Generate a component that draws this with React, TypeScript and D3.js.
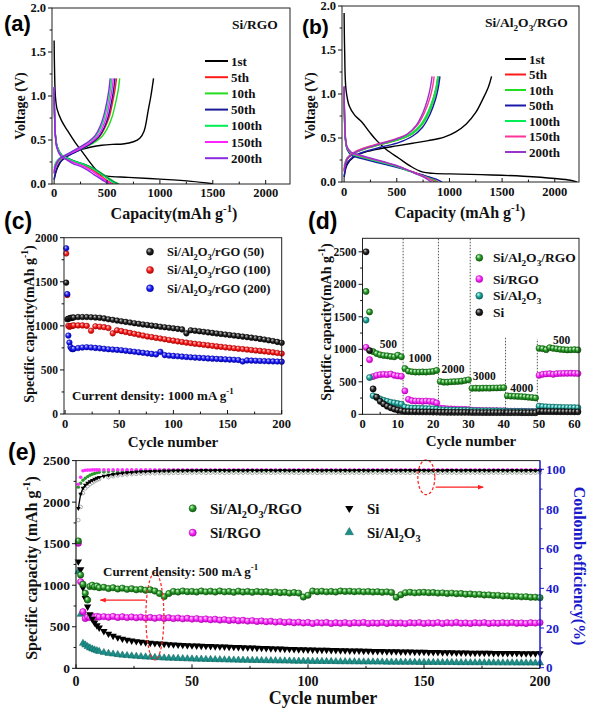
import React from "react";
import * as d3 from "d3";

const SERIF = "'Liberation Serif','Times New Roman',Times,serif";
const SANS = "'Liberation Sans',Arial,Helvetica,sans-serif";

// ---------------- (a) Si/RGO voltage profiles [capacity mAh/g, V] ----------------
const A_LABELS = ["1st", "5th", "10th", "50th", "100th", "150th", "200th"];
const A_COLORS = ["#000000", "#ff1a1a", "#22dd22", "#1a1a99", "#00ee55", "#ff22ff", "#8a2be2"];
const A_1_DIS = [[0,1.63],[4,1.3],[12,1.0],[28,0.85],[70,0.72],[130,0.6],[200,0.47],[270,0.36],[330,0.26],[390,0.17],[440,0.11],[500,0.09],[700,0.075],[1000,0.055],[1300,0.03],[1500,0.003]];
const A_1_CHG = [[0,0.05],[30,0.18],[80,0.28],[150,0.34],[250,0.39],[350,0.42],[450,0.44],[550,0.45],[650,0.455],[750,0.48],[810,0.52],[850,0.6],[890,0.84],[915,1.0],[940,1.2]];
const A_5_DIS = [[0,1.08],[4,0.8],[12,0.56],[28,0.42],[65,0.33],[121,0.29],[196,0.25],[271,0.22],[336,0.18],[401,0.13],[457,0.08],[513,0.03],[560,0]];
const A_5_CHG = [[0,0.12],[15,0.2],[50,0.27],[125,0.32],[205,0.37],[285,0.42],[360,0.47],[430,0.54],[480,0.64],[523,0.77],[553,0.93],[574,1.06],[590,1.2]];
const A_10_DIS = [[0,1.09],[4,0.8],[12,0.56],[31,0.42],[72,0.33],[133,0.29],[215,0.25],[297,0.22],[369,0.18],[441,0.13],[502,0.08],[564,0.03],[615,0]];
const A_10_CHG = [[0,0.15],[16,0.22],[55,0.28],[130,0.33],[215,0.37],[300,0.42],[378,0.47],[453,0.54],[507,0.64],[550,0.77],[583,0.93],[605,1.06],[620,1.2]];
const A_50_DIS = [[0,1.1],[4,0.8],[12,0.56],[30,0.42],[70,0.33],[130,0.29],[210,0.25],[290,0.22],[360,0.18],[430,0.13],[490,0.08],[550,0.03],[600,0]];
const A_50_CHG = [[0,0.05],[15,0.14],[50,0.24],[120,0.31],[200,0.36],[280,0.41],[350,0.46],[420,0.53],[470,0.63],[510,0.76],[540,0.92],[560,1.05],[575,1.2]];
const A_100_DIS = [[0,1.1],[4,0.8],[12,0.56],[30,0.42],[69,0.33],[128,0.29],[207,0.25],[285,0.22],[354,0.18],[423,0.13],[482,0.08],[541,0.03],[590,0]];
const A_100_CHG = [[0,0.18],[14,0.24],[47,0.29],[113,0.33],[190,0.38],[265,0.43],[332,0.48],[398,0.55],[446,0.65],[483,0.78],[512,0.93],[531,1.06],[545,1.2]];
const A_150_DIS = [[0,1.1],[4,0.8],[12,0.55],[27,0.41],[64,0.32],[118,0.28],[191,0.24],[263,0.21],[327,0.17],[390,0.12],[445,0.07],[500,0.03],[545,0]];
const A_150_CHG = [[0,0.15],[15,0.22],[49,0.28],[117,0.33],[195,0.37],[273,0.42],[341,0.47],[409,0.54],[458,0.64],[497,0.77],[526,0.93],[546,1.06],[560,1.2]];
const A_200_DIS = [[0,1.1],[4,0.8],[12,0.55],[26,0.41],[61,0.32],[113,0.28],[182,0.23],[251,0.2],[312,0.16],[373,0.11],[425,0.07],[477,0.03],[520,0]];
const A_200_CHG = [[0,0.12],[14,0.21],[46,0.28],[110,0.33],[184,0.38],[258,0.43],[323,0.48],[387,0.55],[433,0.65],[470,0.78],[498,0.93],[517,1.06],[530,1.2]];

// ---------------- (b) Si/Al2O3/RGO voltage profiles ----------------
const B_COLORS = ["#000000", "#ff1a1a", "#22dd22", "#1a1aaa", "#00ee55", "#ff3399", "#9933cc"];
const B_1_DIS = [[0,1.92],[5,1.5],[18,1.05],[50,0.86],[100,0.76],[170,0.68],[240,0.57],[310,0.47],[400,0.37],[520,0.27],[630,0.18],[740,0.115],[850,0.098],[1100,0.09],[1400,0.08],[1700,0.065],[2000,0.04],[2150,0.02],[2210,0]];
const B_1_CHG = [[0,0.05],[30,0.2],[100,0.29],[200,0.34],[350,0.38],[500,0.41],[650,0.44],[800,0.47],[950,0.51],[1060,0.57],[1160,0.66],[1250,0.79],[1320,0.95],[1370,1.08],[1400,1.2]];
const B_5_DIS = [[0,1.08],[4,0.76],[12,0.5],[30,0.38],[71,0.32],[152,0.29],[273,0.25],[405,0.21],[526,0.17],[637,0.12],[738,0.08],[829,0.04],[890,0]];
const B_5_CHG = [[0,0.12],[31,0.26],[102,0.33],[205,0.38],[358,0.43],[511,0.48],[634,0.54],[726,0.64],[798,0.79],[849,0.96],[875,1.08],[890,1.2]];
const B_10_DIS = [[0,1.08],[4,0.75],[12,0.5],[30,0.38],[70,0.32],[150,0.29],[270,0.25],[400,0.21],[520,0.17],[630,0.12],[730,0.08],[820,0.04],[880,0]];
const B_10_CHG = [[0,0.14],[31,0.27],[103,0.33],[207,0.38],[362,0.43],[517,0.48],[641,0.54],[734,0.64],[807,0.79],[858,0.96],[884,1.08],[900,1.2]];
const B_50_DIS = [[0,1.05],[4,0.72],[12,0.48],[32,0.36],[74,0.3],[158,0.27],[285,0.23],[423,0.19],[550,0.15],[666,0.11],[772,0.07],[867,0.035],[930,0]];
const B_50_CHG = [[0,0.06],[31,0.22],[105,0.3],[209,0.35],[366,0.4],[523,0.45],[648,0.52],[743,0.62],[816,0.77],[868,0.94],[894,1.07],[910,1.2]];
const B_100_DIS = [[0,1.08],[4,0.75],[12,0.5],[30,0.38],[69,0.32],[148,0.29],[267,0.25],[395,0.21],[514,0.17],[623,0.12],[722,0.08],[811,0.04],[870,0]];
const B_100_CHG = [[0,0.18],[31,0.28],[102,0.34],[205,0.39],[358,0.44],[511,0.49],[634,0.55],[726,0.65],[798,0.8],[849,0.96],[875,1.08],[890,1.2]];
const B_150_DIS = [[0,1.08],[4,0.76],[12,0.51],[29,0.39],[68,0.33],[147,0.3],[264,0.26],[391,0.22],[508,0.18],[616,0.13],[713,0.085],[801,0.04],[860,0]];
const B_150_CHG = [[0,0.15],[29,0.27],[98,0.34],[197,0.39],[344,0.44],[491,0.49],[609,0.55],[698,0.65],[767,0.8],[816,0.96],[840,1.08],[855,1.2]];
const B_200_DIS = [[0,1.09],[4,0.77],[12,0.52],[28,0.4],[66,0.34],[141,0.31],[255,0.27],[377,0.23],[490,0.19],[594,0.14],[688,0.09],[773,0.045],[830,0]];
const B_200_CHG = [[0,0.12],[29,0.26],[96,0.33],[192,0.38],[336,0.43],[480,0.48],[595,0.54],[682,0.64],[749,0.79],[797,0.96],[820,1.08],[835,1.2]];

// ---------------- (c) cycling at 1000 mA/g ----------------
const C_CYCLES = [1, 2, 3, 4, 5, 6, 7, 8].concat(d3.range(12, 201, 4));
const C_50 = [1490,1075,1080,1085,1090,1090,1095,1095,
  1100,1100,1100,1098,1095,1092,1085,1075,1068,1060,1052,1045,
  1038,1030,1023,1016,1010,1003,997,990,984,978,972,966,
  960,915,950,945,938,932,926,920,914,908,902,896,
  890,884,878,872,866,860,852,845,836,828,818,808];
const C_100 = [1820,1350,1000,990,995,1000,1000,1005,
  1005,1005,1000,945,995,990,985,975,915,950,940,930,
  920,910,900,890,880,872,864,856,848,840,832,824,
  817,810,803,797,791,785,779,773,767,762,756,751,
  746,741,736,731,726,721,716,711,705,699,692,685];
const C_200 = [1880,1360,890,810,760,740,735,740,
  748,755,758,755,750,745,740,735,731,728,724,718,
  712,706,700,694,688,682,676,705,668,663,659,655,
  651,647,643,640,637,634,631,628,625,622,620,617,
  615,612,595,608,606,604,602,600,598,597,595,594];
const C_LEGEND = ["Si/Al_{2}O_{3}/rGO (50)", "Si/Al_{2}O_{3}/rGO (100)", "Si/Al_{2}O_{3}/rGO (200)"];

// ---------------- (d) rate performance ----------------
const D_CYCLES = d3.range(1, 62);
const D_GREEN = [1890,1575,965,935,915,905,900,890,885,910,885,
  705,665,655,650,650,652,650,655,660,675,
  505,495,495,500,502,505,510,520,530,
  400,402,400,402,403,402,405,405,408,410,
  285,280,278,275,272,268,262,258,252,
  1015,1010,995,1025,1015,1008,1000,995,990,992,995,990];
const D_PINK = [1030,840,580,600,610,615,610,620,600,590,585,
  360,230,210,205,205,200,205,200,195,175,
  95,90,85,82,80,78,76,75,74,
  62,60,59,58,57,57,56,56,55,55,
  48,47,46,45,45,44,43,43,42,
  600,615,620,625,615,625,628,630,630,632,630,628];
const D_TEAL = [1450,565,285,260,235,215,200,185,175,165,155,
  110,100,96,94,92,90,88,86,84,82,
  70,68,67,66,65,64,63,62,62,
  56,55,54,54,53,53,52,52,51,51,
  46,45,45,44,44,43,43,42,42,
  125,118,115,112,110,108,106,105,104,103,102,100];
const D_BLACK = [2500,980,390,265,200,160,125,100,80,65,55,
  42,40,39,38,37,37,36,36,35,35,
  32,32,31,31,31,30,30,30,30,
  28,28,28,27,27,27,27,27,27,27,
  26,26,26,26,25,25,25,25,25,
  45,44,43,42,42,41,40,40,39,39,38,38];
const D_SEPARATORS = [11.5, 21.5, 30.5, 40.5, 49.5];
const D_SEP_TOPS = [2708, 2708, 2708, 1190, 1160];
const D_RATES = ["500", "1000", "2000", "3000", "4000", "500"];
const D_RATE_CYC = [7.3, 16.3, 25.6, 34.5, 45.1, 56.4];
const D_RATE_VAL = [1075, 862, 692, 589, 400, 1143];
const D_LEGEND = ["Si/Al_{2}O_{3}/RGO", "Si/RGO", "Si/Al_{2}O_{3}", "Si"];

// ---------------- (e) long cycling at 500 mA/g ----------------
const E_CYCLES = [1, 2, 3, 4, 5, 6, 7, 8, 9, 10].concat(d3.range(12, 201, 2));
const E_SI = [1285,1190,971,843,742,650,595,550,515,488,
  448,415,390,370,355,343,333,325,318,312,
  306,301,297,293,289,286,283,280,277,274,
  272,270,268,266,264,262,260,258,256,254,
  252,250,248,246,244,242,240,238,236,234,
  232,230,228,226,224,223,222,221,220,218,
  217,216,215,213,212,211,210,208,207,206,
  205,204,203,202,201,200,199,198,197,196,
  195,194,193,192,191,190,189,188,187,186,
  185,185,184,184,183,183,182,182,181,181,
  180,180,180,179,179];
const E_SIAL = [1164,650,301,281,262,246,233,222,212,203,
  190,180,172,165,159,154,149,145,141,137,
  134,131,128,125,123,121,119,117,115,113,
  111,110,108,107,105,104,103,101,100,99,
  98,97,96,95,94,93,92,91,90,89,
  88,87,86,86,85,84,84,83,82,82,
  81,80,80,79,79,78,78,77,77,76,
  76,75,75,74,74,73,73,73,72,72,
  71,71,71,70,70,70,69,69,69,68,
  68,68,67,67,67,66,66,66,66,65,
  65,65,65,64,64];
const E_SIRGO = [1506,1043,682,600,618,610,625,615,625,618,
  622,615,625,612,620,610,618,608,615,605,
  612,602,610,600,608,598,605,595,602,592,
  598,588,594,584,590,580,586,576,582,572,
  578,568,574,564,570,560,566,556,562,552,
  558,548,555,545,552,540,550,545,552,540,
  548,542,550,540,548,544,552,540,546,542,
  550,540,548,542,546,538,548,544,550,540,
  546,542,550,540,548,544,552,542,546,540,
  548,544,550,540,546,542,548,544,550,542,
  546,540,548,544,550];
const E_SIALRGO = [1533,1124,1012,904,823,985,1000,980,990,970,
  975,960,970,955,965,950,958,945,952,940,
  945,930,900,863,900,925,918,930,922,925,
  918,930,920,928,918,930,920,925,915,928,
  918,925,915,925,918,922,912,920,910,915,
  905,912,905,858,880,930,922,928,920,925,
  918,930,925,928,922,926,920,924,918,922,
  915,920,912,855,885,910,915,908,912,915,
  910,912,905,908,900,905,898,900,892,895,
  888,890,882,884,876,878,870,872,865,866,
  860,862,855,856,850];
const E_CE_SIALRGO = [91,93,94.5,95.5,96.3,97,97.5,97.9,98.2,98.5,
  98.7,98.9,99,99.1,99.1,99.2,99.2,99.2,99.3,99.3,
  99.3,99.2,99.3,99.3,99.2,99.3,99.3,99.2,99.3,99.3,
  99.3,99.2,99.3,99.3,99.2,99.3,99.3,99.2,99.3,99.3,
  99.3,99.2,99.3,99.3,99.2,99.3,99.3,99.2,99.3,99.3,
  99.3,99.2,99.3,99.3,99.2,99.3,99.3,99.2,99.3,99.3,
  99.3,99.2,99.3,99.3,99.2,99.3,99.3,99.2,99.3,99.3,
  99.3,99.2,99.3,99.3,99.2,99.3,99.3,99.2,99.3,99.3,
  99.3,99.2,99.3,99.3,99.2,99.3,99.3,99.2,99.3,99.3,
  99.3,99.2,99.3,99.3,99.2,99.3,99.3,99.2,99.3,99.3,
  99.3,99.2,99.3,99.3,99.2];
const E_CE_SIRGO = [92.5,96,99.3,99.5,99.6,99.6,99.7,99.7,99.7,99.7,
  99.8,99.7,99.8,99.8,99.7,99.8,99.8,99.7,99.8,99.8,
  99.8,99.7,99.8,99.8,99.7,99.8,99.8,99.7,99.8,99.8,
  99.8,99.7,99.8,99.8,99.7,99.8,99.8,99.7,99.8,99.8,
  99.8,99.7,99.8,99.8,99.7,99.8,99.8,99.7,99.8,99.8,
  99.8,99.7,99.8,99.8,99.7,99.8,99.8,99.7,99.8,99.8,
  99.8,99.7,99.8,99.8,99.7,99.8,99.8,99.7,99.8,99.8,
  99.8,99.7,99.8,99.8,99.7,99.8,99.8,99.7,99.8,99.8,
  99.8,99.7,99.8,99.8,99.7,99.8,99.8,99.7,99.8,99.8,
  99.8,99.7,99.8,99.8,99.7,99.8,99.8,99.7,99.8,99.8,
  99.8,99.7,99.8,99.8,99.7];
const E_CE_SI = [80.3,87.5,90.5,92,93,93.8,94.5,95.1,95.6,96,
  96.6,97.1,97.5,97.8,98.1,98.3,98.5,98.7,98.8,98.9,
  99,99.1,99.1,99.2,99.2,99.3,99.3,99.3,99.4,99.4,
  99.4,99.5,99.5,99.4,99.5,99.5,99.5,99.4,99.5,99.5,
  99.4,99.5,99.5,99.4,99.5,99.5,99.5,99.4,99.5,99.5,
  99.4,99.5,99.5,99.4,99.5,99.5,99.5,99.4,99.5,99.5,
  99.4,99.5,99.5,99.4,99.5,99.5,99.5,99.4,99.5,99.5,
  99.4,99.5,99.5,99.4,99.5,99.5,99.5,99.4,99.5,99.5,
  99.4,99.5,99.5,99.4,99.5,99.5,99.5,99.4,99.5,99.5,
  99.4,99.5,99.5,99.4,99.5,99.5,99.5,99.4,99.5,99.5,
  99.4,99.5,99.5,99.4,99.5];
const E_CE_SIAL = [74.4,81,88,90.4,91.5,92.5,93.3,94,94.6,95.1,
  99,96,96.5,96.9,97.2,97.4,97.6,97.7,97.8,97.9,
  98,98,98.1,98.1,98.1,98.2,98.2,98.2,98.2,98.3,
  98.3,98.3,98.2,98.3,98.3,98.3,98.2,98.3,98.3,98.3,
  98.3,98.3,98.2,98.3,98.3,98.3,98.2,98.3,98.3,98.3,
  98.3,98.3,98.2,98.3,98.3,98.3,98.2,98.3,98.3,98.3,
  98.3,98.3,98.2,98.3,98.3,98.3,98.2,98.3,98.3,98.3,
  98.3,98.3,98.2,98.3,98.3,98.3,98.2,98.3,98.3,98.3,
  98.3,98.3,98.2,98.3,98.3,98.3,98.2,98.3,98.3,98.3,
  98.3,98.3,98.2,98.3,98.3,98.3,98.2,98.3,98.3,98.3,
  98.3,98.3,98.2,98.3,98.3];

// ---------------- scales ----------------
const xA = d3.scaleLinear().domain([-20, 2230]).range([52, 290]);
const yA = d3.scaleLinear().domain([0, 2]).range([184, 8]);
const xB = d3.scaleLinear().domain([-20, 2230]).range([342, 579]);
const yB = d3.scaleLinear().domain([0, 2]).range([182, 6]);
const xC = d3.scaleLinear().domain([-1, 200]).range([64, 281.7]);
const yC = d3.scaleLinear().domain([0, 2000]).range([414, 237.7]);
const xD = d3.scaleLinear().domain([0, 61.3]).range([362.5, 579]);
const yD = d3.scaleLinear().domain([0, 2708]).range([414.3, 238.3]);
const xE = d3.scaleLinear().domain([0, 200]).range([76, 540]);
const yE = d3.scaleLinear().domain([0, 2500]).range([668.3, 460.6]);
const yE2 = d3.scaleLinear().domain([0, 100]).range([667.7, 469.3]);

const STROKES: Record<string, string> = {
  gGreen: "#0d560d", gPink: "#b000b0", gTeal: "#0a5f5a", gBlack: "#000", gRed: "#a00000", gBlue: "#0000a0",
};

function Rich({ text, fs }: { text: string; fs: number }) {
  const parts: { t: string; k: string }[] = [];
  const re = /([_^])\{([^}]*)\}/g;
  let last = 0;
  let m: RegExpExecArray | null;
  while ((m = re.exec(text))) {
    if (m.index > last) parts.push({ t: text.slice(last, m.index), k: "n" });
    parts.push({ t: m[2], k: m[1] === "_" ? "sub" : "sup" });
    last = re.lastIndex;
  }
  if (last < text.length) parts.push({ t: text.slice(last), k: "n" });
  let cur = 0;
  return (
    <>
      {parts.map((p, i) => {
        const target = p.k === "sub" ? fs * 0.3 : p.k === "sup" ? -fs * 0.42 : 0;
        const dy = target - cur;
        cur = target;
        return (
          <tspan key={i} dy={dy} fontSize={p.k === "n" ? fs : fs * 0.68}>
            {p.t}
          </tspan>
        );
      })}
    </>
  );
}

function T({ x, y, fs, text, anchor = "start", fill = "#111", rotate = 0, family = SERIF }: any) {
  return (
    <text
      transform={`translate(${x},${y}) rotate(${rotate})`}
      fontSize={fs}
      fontFamily={family}
      fontWeight="bold"
      textAnchor={anchor}
      fill={fill}
    >
      <Rich text={text} fs={fs} />
    </text>
  );
}

function HAxis({ scale, y, major, minor, fs, labelY, fmt = (v: number) => String(v), color = "#111", len = 4 }: any) {
  return (
    <g>
      {major.map((v: number) => (
        <line key={"M" + v} x1={scale(v)} x2={scale(v)} y1={y} y2={y - len} stroke={color} strokeWidth={1} />
      ))}
      {minor.map((v: number) => (
        <line key={"m" + v} x1={scale(v)} x2={scale(v)} y1={y} y2={y - len * 0.6} stroke={color} strokeWidth={1} />
      ))}
      {major.map((v: number) => (
        <text key={"t" + v} x={scale(v)} y={labelY} textAnchor="middle" fontSize={fs} fontFamily={SERIF} fontWeight="bold" fill={color}>
          {fmt(v)}
        </text>
      ))}
    </g>
  );
}

function VAxis({ scale, x, major, minor, fs, side = -1, labelGap = 2, fmt = (v: number) => String(v), color = "#111", len = 4 }: any) {
  return (
    <g>
      {major.map((v: number) => (
        <line key={"M" + v} x1={x} x2={x + side * len} y1={scale(v)} y2={scale(v)} stroke={color} strokeWidth={1} />
      ))}
      {minor.map((v: number) => (
        <line key={"m" + v} x1={x} x2={x + side * len * 0.6} y1={scale(v)} y2={scale(v)} stroke={color} strokeWidth={1} />
      ))}
      {major.map((v: number) => (
        <text
          key={"t" + v}
          x={x + side * (len + labelGap)}
          y={scale(v) + fs * 0.35}
          textAnchor={side < 0 ? "end" : "start"}
          fontSize={fs}
          fontFamily={SERIF}
          fontWeight="bold"
          fill={color}
        >
          {fmt(v)}
        </text>
      ))}
    </g>
  );
}

function Ball({ cx, cy, r, g }: any) {
  return <circle cx={cx} cy={cy} r={r} fill={`url(#${g})`} stroke={STROKES[g]} strokeWidth={0.5} />;
}

const triPath = d3.symbol().type(d3.symbolTriangle);

function Tri({ cx, cy, size, fill, down = false, stroke = "none" }: any) {
  return (
    <path
      d={triPath.size(size)() as string}
      transform={`translate(${cx},${cy}) rotate(${down ? 180 : 0})`}
      fill={fill}
      stroke={stroke}
      strokeWidth={0.5}
    />
  );
}

function grad(id: string, c0: string, c1: string, c2: string) {
  return (
    <radialGradient key={id} id={id} cx="0.45" cy="0.42" r="0.62" fx="0.33" fy="0.3">
      <stop offset="0" stopColor={c0} />
      <stop offset="0.5" stopColor={c1} />
      <stop offset="1" stopColor={c2} />
    </radialGradient>
  );
}

const fmt1 = d3.format(".1f");

export default function App() {
  const lineFor = (xs: any, ys: any) =>
    d3
      .line<number[]>()
      .x((d) => xs(d[0]))
      .y((d) => ys(d[1]))
      .curve(d3.curveCatmullRom.alpha(0.5));
  const lA = lineFor(xA, yA);
  const lB = lineFor(xB, yB);

  const aCurves = [
    [A_1_DIS, A_1_CHG], [A_5_DIS, A_5_CHG], [A_10_DIS, A_10_CHG], [A_50_DIS, A_50_CHG],
    [A_100_DIS, A_100_CHG], [A_150_DIS, A_150_CHG], [A_200_DIS, A_200_CHG],
  ];
  const bCurves = [
    [B_1_DIS, B_1_CHG], [B_5_DIS, B_5_CHG], [B_10_DIS, B_10_CHG], [B_50_DIS, B_50_CHG],
    [B_100_DIS, B_100_CHG], [B_150_DIS, B_150_CHG], [B_200_DIS, B_200_CHG],
  ];

  const capTicksMinor = [250, 750, 1250, 1750];
  const vMajor = [0, 0.5, 1, 1.5, 2];
  const vMinor = [0.25, 0.75, 1.25, 1.75];

  const ceSiLine = d3
    .line<number>()
    .x((_, i) => xE(E_CYCLES[i]))
    .y((d) => yE2(d));

  const frame = "#222";

  return (
    <div style={{ position: "absolute", left: 0, top: 0, width: 591, height: 710, background: "#fff" }}>
      <svg width={591} height={710} viewBox="0 0 591 710" style={{ display: "block" }}>
        <defs>
          {grad("gGreen", "#d6ffd6", "#2a9a2a", "#0b560b")}
          {grad("gPink", "#ffe0ff", "#ff30ff", "#b400b4")}
          {grad("gTeal", "#d0fffb", "#1fa39a", "#0a5f5a")}
          {grad("gBlack", "#d0d0d0", "#262626", "#000000")}
          {grad("gRed", "#ffd6d6", "#ff2020", "#b00000")}
          {grad("gBlue", "#d6d6ff", "#2020ff", "#0000a0")}
          <clipPath id="clipA"><rect x={52} y={8} width={238} height={176} /></clipPath>
          <clipPath id="clipB"><rect x={342} y={6} width={237} height={176} /></clipPath>
          <marker id="arrRed" viewBox="0 0 10 10" refX="9" refY="5" markerWidth="5" markerHeight="5" orient="auto">
            <path d="M0,1 L10,5 L0,9 z" fill="#ff2020" />
          </marker>
        </defs>

        {/* ================= (a) ================= */}
        <g>
          <text x={4} y={31} fontSize={22} fontFamily={SANS} fontWeight="bold">(a)</text>
          <g clipPath="url(#clipA)">
            {aCurves.map((pair, i) =>
              pair.map((pts, j) => (
                <path key={`a${i}${j}`} d={lA(pts as any) as string} fill="none" stroke={A_COLORS[i]} strokeWidth={1.4} />
              ))
            )}
          </g>
          <rect x={52} y={8} width={238} height={176} fill="none" stroke={frame} strokeWidth={1} />
          <HAxis scale={xA} y={184} major={[0, 500, 1000, 1500, 2000]} minor={capTicksMinor} fs={12.5} labelY={197} />
          <VAxis scale={yA} x={52} major={vMajor} minor={vMinor} fs={12.5} fmt={fmt1} />
          <T x={25} y={106} fs={14} text="Voltage (V)" anchor="middle" rotate={-90} />
          <T x={174} y={219} fs={16} text="Capacity(mAh g^{-1})" anchor="middle" />
          <T x={232} y={29} fs={13.5} text="Si/RGO" />
          {A_LABELS.map((lab, i) => {
            const cy = 61 + i * 16.2;
            return (
              <g key={"la" + i}>
                <line x1={205} x2={228} y1={cy} y2={cy} stroke={A_COLORS[i]} strokeWidth={2} />
                <T x={231} y={cy + 4.5} fs={13} text={lab} />
              </g>
            );
          })}
        </g>

        {/* ================= (b) ================= */}
        <g>
          <text x={302} y={34} fontSize={21} fontFamily={SANS} fontWeight="bold">(b)</text>
          <g clipPath="url(#clipB)">
            {bCurves.map((pair, i) =>
              pair.map((pts, j) => (
                <path key={`b${i}${j}`} d={lB(pts as any) as string} fill="none" stroke={B_COLORS[i]} strokeWidth={1.4} />
              ))
            )}
          </g>
          <rect x={342} y={6} width={237} height={176} fill="none" stroke={frame} strokeWidth={1} />
          <HAxis scale={xB} y={182} major={[0, 500, 1000, 1500, 2000]} minor={capTicksMinor} fs={12.5} labelY={195.5} />
          <VAxis scale={yB} x={342} major={vMajor} minor={vMinor} fs={12.5} fmt={fmt1} />
          <T x={315} y={106} fs={14} text="Voltage (V)" anchor="middle" rotate={-90} />
          <T x={460} y={218} fs={16} text="Capacity (mAh g^{-1})" anchor="middle" />
          <T x={485} y={27} fs={13.5} text="Si/Al_{2}O_{3}/RGO" />
          {A_LABELS.map((lab, i) => {
            const cy = 59 + i * 15.5;
            return (
              <g key={"lb" + i}>
                <line x1={505} x2={526} y1={cy} y2={cy} stroke={B_COLORS[i]} strokeWidth={2} />
                <T x={529} y={cy + 4.5} fs={13} text={lab} />
              </g>
            );
          })}
        </g>

        {/* ================= (c) ================= */}
        <g>
          <text x={4} y={229} fontSize={23} fontFamily={SANS} fontWeight="bold">(c)</text>
          {[
            { d: C_50, g: "gBlack" },
            { d: C_100, g: "gRed" },
            { d: C_200, g: "gBlue" },
          ].map((s, si) =>
            s.d.map((v, i) => <Ball key={`c${si}-${i}`} cx={xC(C_CYCLES[i])} cy={yC(v)} r={2.8} g={s.g} />)
          )}
          <rect x={64} y={237.7} width={217.7} height={176.3} fill="none" stroke={frame} strokeWidth={1} />
          <HAxis scale={xC} y={414} major={[0, 50, 100, 150, 200]} minor={[25, 75, 125, 175]} fs={12.5} labelY={428} />
          <VAxis scale={yC} x={64} major={[0, 500, 1000, 1500, 2000]} minor={[250, 750, 1250, 1750]} fs={11.5} />
          <T x={34} y={324} fs={14} text="Specific capacity(mAh g^{-1})" anchor="middle" rotate={-90} />
          <T x={173} y={447} fs={15} text="Cycle number" anchor="middle" />
          <T x={72} y={399.5} fs={13} text="Current density: 1000 mA g^{-1}" />
          {C_LEGEND.map((lab, i) => {
            const cy = 251.7 + i * 18.3;
            return (
              <g key={"lc" + i}>
                <Ball cx={150} cy={cy} r={3.5} g={["gBlack", "gRed", "gBlue"][i]} />
                <T x={167} y={cy + 4.3} fs={12.5} text={lab} />
              </g>
            );
          })}
        </g>

        {/* ================= (d) ================= */}
        <g>
          <text x={308} y={229} fontSize={23} fontFamily={SANS} fontWeight="bold">(d)</text>
          {D_SEPARATORS.map((c, i) => (
            <line key={"sep" + i} x1={xD(c)} x2={xD(c)} y1={yD(0)} y2={yD(D_SEP_TOPS[i])} stroke="#555" strokeWidth={1} strokeDasharray="1.5,1.5" />
          ))}
          {[
            { d: D_GREEN, g: "gGreen" },
            { d: D_PINK, g: "gPink" },
            { d: D_TEAL, g: "gTeal" },
            { d: D_BLACK, g: "gBlack" },
          ].map((s, si) =>
            s.d.map((v, i) => <Ball key={`d${si}-${i}`} cx={xD(D_CYCLES[i])} cy={yD(v)} r={3.1} g={s.g} />)
          )}
          {D_RATES.map((t, i) => (
            <text key={"rt" + i} x={xD(D_RATE_CYC[i])} y={yD(D_RATE_VAL[i]) + 4} textAnchor="middle" fontSize={11.5} fontFamily={SERIF} fontWeight="bold" fill="#111">
              {t}
            </text>
          ))}
          <rect x={362.5} y={238.3} width={216.5} height={176} fill="none" stroke={frame} strokeWidth={1} />
          <HAxis scale={xD} y={414.3} major={[0, 10, 20, 30, 40, 50, 60]} minor={[5, 15, 25, 35, 45, 55]} fs={12.5} labelY={428} />
          <VAxis scale={yD} x={362.5} major={[0, 500, 1000, 1500, 2000, 2500]} minor={[250, 750, 1250, 1750, 2250]} fs={11.5} />
          <T x={331} y={322} fs={14} text="Specific capacity(mAh g^{-1})" anchor="middle" rotate={-90} />
          <T x={471} y={446} fs={15} text="Cycle number" anchor="middle" />
          {D_LEGEND.map((lab, i) => {
            const cy = [257.7, 279, 295.7, 312.3][i];
            return (
              <g key={"ld" + i}>
                <Ball cx={479.3} cy={cy} r={3.5} g={["gGreen", "gPink", "gTeal", "gBlack"][i]} />
                <T x={493} y={cy + 4.6} fs={13.5} text={lab} />
              </g>
            );
          })}
        </g>

        {/* ================= (e) ================= */}
        <g>
          <text x={8} y={460} fontSize={23} fontFamily={SANS} fontWeight="bold">(e)</text>
          {/* Coulombic efficiency */}
          {E_CE_SIAL.map((v, i) => (
            <circle key={"ce1" + i} cx={xE(E_CYCLES[i])} cy={yE2(v)} r={1.8} fill="#fff" stroke="#8a8a8a" strokeWidth={0.7} />
          ))}
          {E_CE_SIALRGO.map((v, i) => (
            <circle key={"ce2" + i} cx={xE(E_CYCLES[i])} cy={yE2(v)} r={1.7} fill="#2a9a2a" />
          ))}
          {E_CE_SIRGO.map((v, i) => (
            <circle key={"ce3" + i} cx={xE(E_CYCLES[i])} cy={yE2(v)} r={1.8} fill="#ff30ff" />
          ))}
          <path d={ceSiLine(E_CE_SI) as string} fill="none" stroke="#000" strokeWidth={1.3} />
          {E_CE_SI.map((v, i) => (
            <Tri key={"ce4" + i} cx={xE(E_CYCLES[i])} cy={yE2(v)} size={9} fill="#000" down />
          ))}
          {/* capacities */}
          {E_SIAL.map((v, i) => (
            <Tri key={"e1" + i} cx={xE(E_CYCLES[i])} cy={yE(v)} size={22} fill="#1b8f88" stroke="#0a5f5a" />
          ))}
          {E_SIRGO.map((v, i) => (
            <Ball key={"e2" + i} cx={xE(E_CYCLES[i])} cy={yE(v)} r={3.2} g="gPink" />
          ))}
          {E_SI.map((v, i) => (
            <Tri key={"e3" + i} cx={xE(E_CYCLES[i])} cy={yE(v)} size={24} fill="#000" down />
          ))}
          {E_SIALRGO.map((v, i) => (
            <Ball key={"e4" + i} cx={xE(E_CYCLES[i])} cy={yE(v)} r={3.2} g="gGreen" />
          ))}

          {/* annotations */}
          <ellipse cx={xE(34)} cy={yE(625)} rx={9} ry={(yE(100) - yE(1150)) / 2} fill="none" stroke="#ff2020" strokeWidth={1.2} strokeDasharray="3,2" />
          <line x1={xE(30)} x2={xE(10.5)} y1={yE(820)} y2={yE(820)} stroke="#ff2020" strokeWidth={1.2} markerEnd="url(#arrRed)" />
          <ellipse cx={xE(151)} cy={yE2(96)} rx={8.5} ry={(yE2(87.3) - yE2(104.9)) / 2} fill="none" stroke="#ff2020" strokeWidth={1.2} strokeDasharray="3,2" />
          <line x1={xE(155)} x2={xE(175.5)} y1={yE2(91)} y2={yE2(91)} stroke="#ff2020" strokeWidth={1.2} markerEnd="url(#arrRed)" />

          {/* frame and axes */}
          <line x1={76} x2={540} y1={460.6} y2={460.6} stroke={frame} strokeWidth={1} />
          <line x1={76} x2={540} y1={668.3} y2={668.3} stroke={frame} strokeWidth={1.2} />
          <line x1={76} x2={76} y1={460.6} y2={668.3} stroke={frame} strokeWidth={1.2} />
          <line x1={540} x2={540} y1={460.6} y2={668.3} stroke="#1a1acc" strokeWidth={1.5} />
          <HAxis scale={xE} y={668.3} major={[0, 50, 100, 150, 200]} minor={[25, 75, 125, 175]} fs={14} labelY={686} />
          <VAxis scale={yE} x={76} major={[0, 500, 1000, 1500, 2000, 2500]} minor={[250, 750, 1250, 1750, 2250]} fs={13.5} />
          <VAxis scale={yE2} x={540} side={1} major={[0, 20, 40, 60, 80, 100]} minor={[10, 30, 50, 70, 90]} fs={13} color="#1a1acc" />
          <T x={37} y={568} fs={16} text="Specific capacity (mAh g^{-1})" anchor="middle" rotate={-90} />
          <T x={574} y={566} fs={16} text="Coulomb efficiency(%)" anchor="middle" rotate={90} fill="#1a1acc" />
          <T x={323} y={704} fs={18} text="Cycle number" anchor="middle" />
          <T x={103} y={575.5} fs={13} text="Current density: 500 mA g^{-1}" />
          {/* legend */}
          <Ball cx={192.7} cy={508.3} r={3.6} g="gGreen" />
          <T x={210} y={513.5} fs={15} text="Si/Al_{2}O_{3}/RGO" />
          <Ball cx={192.7} cy={532.7} r={3.6} g="gPink" />
          <T x={210} y={538} fs={15} text="Si/RGO" />
          <Tri cx={349.3} cy={508.3} size={30} fill="#000" down />
          <T x={367} y={513.5} fs={15} text="Si" />
          <Tri cx={349.3} cy={532.3} size={30} fill="#1b8f88" stroke="#0a5f5a" />
          <T x={367} y={537.5} fs={15} text="Si/Al_{2}O_{3}" />
        </g>
      </svg>
    </div>
  );
}
